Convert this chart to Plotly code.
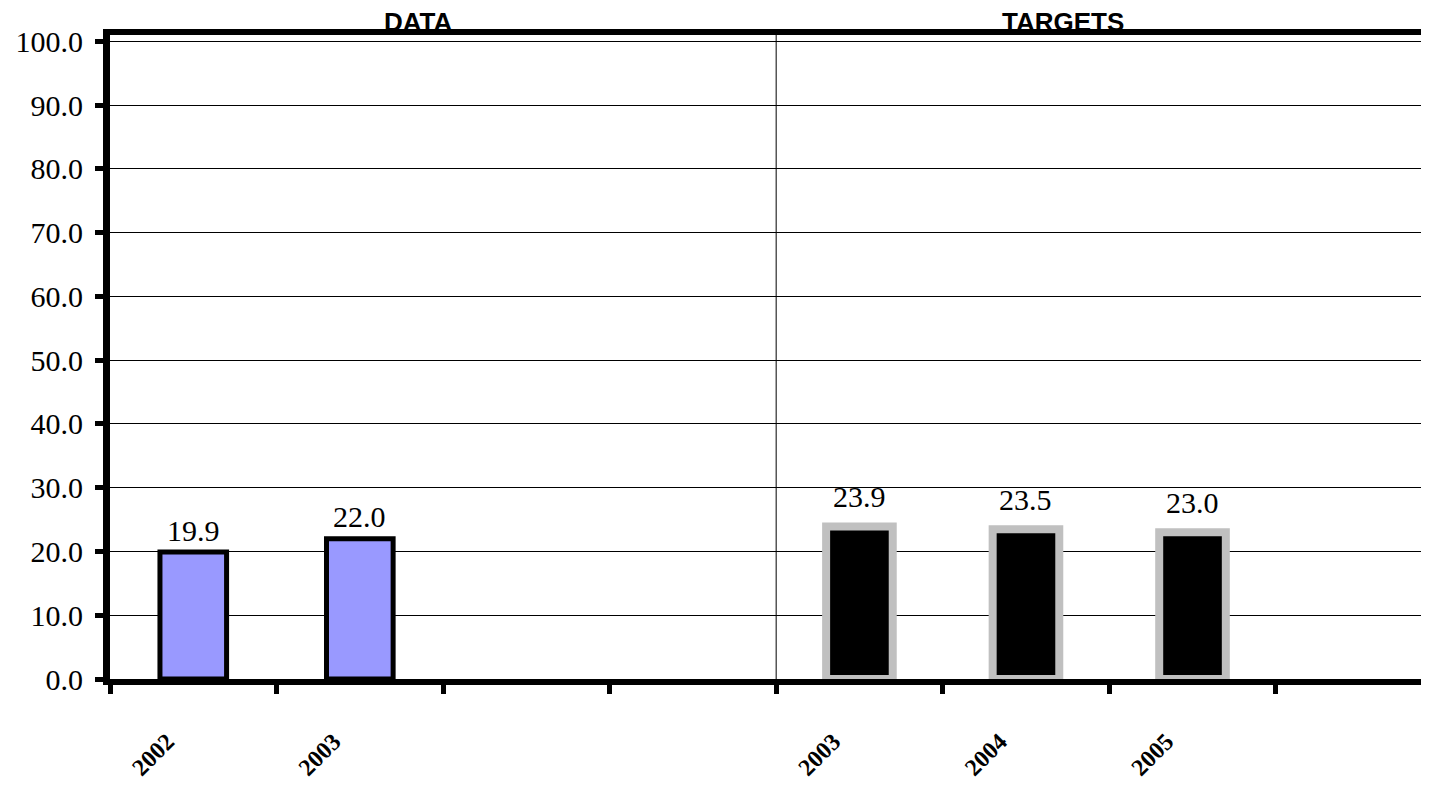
import plotly.graph_objects as go

# ---- data ----
slot_labels = ["2002", "2003", "", "", "2003", "2004", "2005", ""]
data_pos = [0, 1]
data_values = [19.9, 22.0]
target_pos = [4, 5, 6]
target_values = [23.9, 23.5, 23.0]
section_titles = ["DATA", "TARGETS"]
section_title_pos = [1.35, 5.22]
y_ticks = [0, 10, 20, 30, 40, 50, 60, 70, 80, 90, 100]

serif = "Liberation Serif"
sans = "Liberation Sans"

fig = go.Figure()
fig.add_trace(go.Bar(
    x=data_pos, y=data_values, width=0.4,
    marker=dict(color="#9999FF", line=dict(color="black", width=5)),
    showlegend=False, hoverinfo="skip",
))
fig.add_trace(go.Bar(
    x=target_pos, y=target_values, width=0.4,
    marker=dict(color="black", line=dict(color="#C0C0C0", width=8)),
    showlegend=False, hoverinfo="skip",
))

# value labels
for xs, vs, shift in [(data_pos, data_values, 22), (target_pos, target_values, 30)]:
    for xp, v in zip(xs, vs):
        fig.add_annotation(x=xp, y=v, xref="x", yref="y", text=f"{v:.1f}",
                           showarrow=False, yanchor="middle", yshift=shift,
                           font=dict(family=serif, size=30, color="black"))

# separator between DATA and TARGETS
fig.add_shape(type="line", x0=3.5, x1=3.5, y0=0, y1=1, xref="x", yref="paper",
              line=dict(color="black", width=1), layer="below")

for t, p in zip(section_titles, section_title_pos):
    fig.add_annotation(x=p, y=1, xref="x", yref="paper", text=f"<b>{t}</b>",
                       showarrow=False, yanchor="bottom", yshift=-4,
                       font=dict(family=sans, size=26, color="black"))

fig.update_layout(
    width=1421, height=778,
    margin=dict(l=102, r=0, t=27, b=107, autoexpand=False),
    paper_bgcolor="white", plot_bgcolor="white",
)
fig.update_xaxes(
    range=[-0.5, 7.42],
    tickmode="array", tickvals=list(range(len(slot_labels))), ticktext=slot_labels,
    tickangle=-45, ticks="",
    tickfont=dict(family=serif, size=24, color="black", weight="bold"),
    ticklabelstandoff=33, ticklabelshift=-26,
    showline=True, linewidth=6, linecolor="black", mirror=True,
    showgrid=False, zeroline=False, automargin=False,
    minor=dict(ticks="outside", tick0=0.5, dtick=1, ticklen=9, tickwidth=5,
               tickcolor="black", showgrid=False),
)
fig.update_yaxes(
    range=[0, 101],
    tickmode="array", tickvals=y_ticks, ticktext=[f"{v:.1f}" for v in y_ticks],
    ticks="outside", ticklen=8, tickwidth=5, tickcolor="black",
    tickfont=dict(family=serif, size=30, color="black"),
    ticklabelstandoff=6,
    showline=True, linewidth=7, linecolor="black",
    showgrid=True, gridcolor="black", gridwidth=1, zeroline=False, automargin=False,
)

fig.write_html("out.html")
